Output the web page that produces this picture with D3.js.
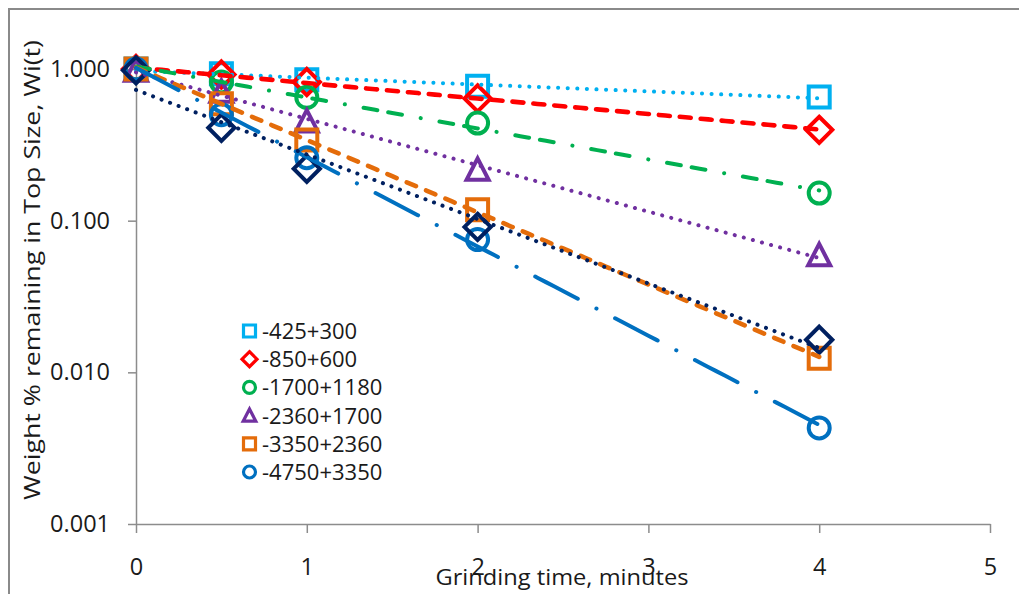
<!DOCTYPE html>
<html>
<head>
<meta charset="utf-8">
<script src="https://cdn.jsdelivr.net/npm/d3@7"></script>
<style>
  html, body { margin: 0; padding: 0; background: #fff; }
  svg { display: block; font-family: "Open Sans", "DejaVu Sans", sans-serif; }
</style>
</head>
<body>
<svg id="chart" width="1019" height="594"></svg>
<script>
// Grinding times (minutes)
const times = [0, 0.5, 1, 2, 4];

// Weight fraction remaining in top size for each feed size class
const seriesNames = ["-425+300", "-850+600", "-1700+1180", "-2360+1700", "-3350+2360", "-4750+3350", ""];
const w425  = [1.00, 0.93, 0.85, 0.77, 0.654];
const w850  = [1.00, 0.92, 0.82, 0.64, 0.397];
const w1700 = [1.00, 0.82, 0.65, 0.44, 0.152];
const w2360 = [0.97, 0.705, 0.45, 0.216, 0.059];
const w3350 = [1.00, 0.59, 0.34, 0.118, 0.0124];
const w4750 = [1.00, 0.50, 0.26, 0.075, 0.0043];
const wExtra = [0.98, 0.41, 0.22, 0.091, 0.0164];

const xTicks = [0, 1, 2, 3, 4, 5];
const yTicks = [0.001, 0.01, 0.1, 1];

const seriesColors = ["#00B0F0", "#FF0000", "#00B050", "#7030A0", "#E46C0A", "#0070C0", "#002060"];
const seriesMarkers = ["square", "diamond", "circle", "triangle", "square", "circle", "diamond"];
const seriesDash = [
  "0.1 9.5",
  "11 10",
  "14 11 14 19 0.1 19",
  "0.1 9.3",
  "10 11",
  "48 21 0.1 21",
  "0.1 9"
];
const seriesWidth = [4, 4.6, 4, 4, 4.6, 4, 4];
const seriesValues = [w425, w850, w1700, w2360, w3350, w4750, wExtra];

const svg = d3.select("#chart");

const x = d3.scaleLinear().domain([0, 5]).range([136, 990]);
const y = d3.scaleLog().domain([0.001, 1]).range([524, 69]);

// outer chart frame
svg.append("rect")
  .attr("x", 9).attr("y", 9)
  .attr("width", 1030).attr("height", 600)
  .attr("fill", "none")
  .attr("stroke", "#8a8a8a")
  .attr("stroke-width", 2);

// axes
const axisColor = "#8c8c8c";
const gx = svg.append("g")
  .attr("transform", `translate(0,${y(0.001)})`)
  .call(d3.axisBottom(x).tickValues(xTicks).tickFormat(d3.format("d"))
    .tickSize(9).tickSizeOuter(0).tickPadding(25));
const gy = svg.append("g")
  .attr("transform", `translate(${x(0)},0)`)
  .call(d3.axisLeft(y).tickValues(yTicks).tickFormat(d3.format(".3f"))
    .tickSize(8).tickSizeOuter(0).tickPadding(18));

[gx, gy].forEach(g => {
  g.select(".domain").attr("stroke", axisColor).attr("stroke-width", 1.5);
  g.selectAll(".tick line").attr("stroke", axisColor).attr("stroke-width", 1.5);
  g.selectAll(".tick text")
    .attr("fill", "#1a1a1a")
    .style("font-size", "23.5px")
    .style("font-family", "'Open Sans', sans-serif");
});

// axis titles
svg.append("text")
  .attr("x", 562).attr("y", 585)
  .attr("text-anchor", "middle")
  .attr("fill", "#1a1a1a")
  .style("font-size", "22px")
  .attr("textLength", 253)
  .attr("lengthAdjust", "spacingAndGlyphs")
  .text("Grinding  time, minutes");

svg.append("text")
  .attr("transform", `translate(40,270) rotate(-90)`)
  .attr("text-anchor", "middle")
  .attr("fill", "#1a1a1a")
  .style("font-size", "22.5px")
  .attr("textLength", 460)
  .attr("lengthAdjust", "spacingAndGlyphs")
  .text("Weight % remaining in Top Size, Wi(t)");

// marker drawing helper
function markerPath(type, s) {
  if (type === "square") {
    return `M${-s},${-s}H${s}V${s}H${-s}Z`;
  } else if (type === "diamond") {
    const d = s * 1.25;
    return `M0,${-d}L${d},0L0,${d}L${-d},0Z`;
  } else if (type === "triangle") {
    const h = s * 1.1;
    return `M0,${-h}L${s * 1.05},${h * 0.85}L${-s * 1.05},${h * 0.85}Z`;
  }
  return null;
}

function drawMarker(g, type, cx, cy, s, color, sw) {
  if (type === "circle") {
    g.append("circle")
      .attr("cx", cx).attr("cy", cy).attr("r", s)
      .attr("fill", "none").attr("stroke", color).attr("stroke-width", sw);
  } else {
    g.append("path")
      .attr("d", markerPath(type, s))
      .attr("transform", `translate(${cx},${cy})`)
      .attr("fill", "none").attr("stroke", color)
      .attr("stroke-width", sw).attr("stroke-linejoin", "miter");
  }
}

// data markers
const markerLayer = svg.append("g");
seriesValues.forEach((vals, i) => {
  vals.forEach((v, j) => {
    drawMarker(markerLayer, seriesMarkers[i], x(times[j]), y(v), 10.5, seriesColors[i], 4);
  });
});

// exponential trendlines (least squares on ln W)
function expFit(ts, vs) {
  const n = ts.length;
  const ly = vs.map(Math.log);
  const mt = d3.mean(ts), ml = d3.mean(ly);
  let sxy = 0, sxx = 0;
  for (let k = 0; k < n; k++) {
    sxy += (ts[k] - mt) * (ly[k] - ml);
    sxx += (ts[k] - mt) ** 2;
  }
  const b = sxy / sxx, a = ml - b * mt;
  return t => Math.exp(a + b * t);
}

const trendLayer = svg.append("g");
const line = d3.line().x(d => x(d[0])).y(d => y(d[1]));
seriesValues.forEach((vals, i) => {
  const f = expFit(times, vals);
  const pts = d3.range(0, 4.0001, 0.05).map(t => [t, f(t)]);
  trendLayer.append("path")
    .attr("d", line(pts))
    .attr("fill", "none")
    .attr("stroke", seriesColors[i])
    .attr("stroke-width", seriesWidth[i])
    .attr("stroke-linecap", "round")
    .attr("stroke-dasharray", seriesDash[i]);
});

// legend (first six series)
const legend = svg.append("g");
seriesNames.slice(0, 6).forEach((name, i) => {
  const cy = 331 + i * 28.2;
  drawMarker(legend, seriesMarkers[i], 249.5, cy, 6, seriesColors[i], 3.2);
  legend.append("text")
    .attr("x", 262).attr("y", cy + 8)
    .attr("fill", "#1a1a1a")
    .style("font-size", "22px")
    .text(name);
});
</script>
</body>
</html>
